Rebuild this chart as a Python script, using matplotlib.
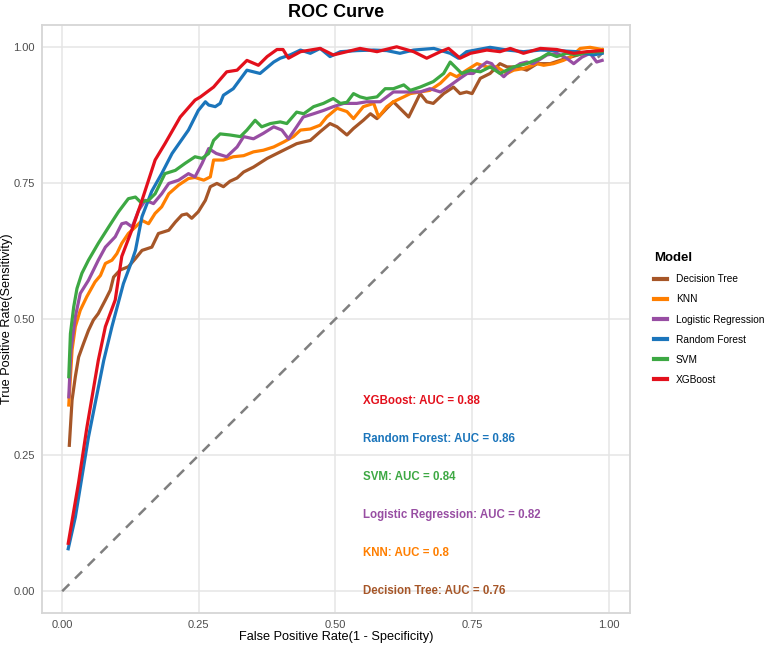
import matplotlib
matplotlib.use("Agg")
import matplotlib.pyplot as plt
from matplotlib.lines import Line2D

plt.rcParams['font.family'] = ['Liberation Sans', 'DejaVu Sans']

models = ["Decision Tree", "KNN", "Logistic Regression", "Random Forest", "SVM", "XGBoost"]
colors = ["#A65628", "#FF7F00", "#984EA3", "#1B75BB", "#3DA843", "#E3101C"]
auc_values = [0.76, 0.8, 0.82, 0.86, 0.84, 0.88]

dt_fpr = [0.013, 0.018, 0.024, 0.030, 0.039, 0.048, 0.057, 0.066, 0.079, 0.088, 0.094, 0.106, 0.121, 0.134, 0.146,
          0.164, 0.176, 0.195, 0.207, 0.219, 0.228, 0.237, 0.249, 0.262, 0.271, 0.283, 0.295, 0.307, 0.320, 0.332,
          0.350, 0.375, 0.393, 0.411, 0.429, 0.441, 0.454, 0.472, 0.490, 0.503, 0.521, 0.533, 0.551, 0.564, 0.576,
          0.594, 0.606, 0.618, 0.634, 0.655, 0.667, 0.679, 0.698, 0.716, 0.728, 0.740, 0.750, 0.765, 0.783, 0.801,
          0.814, 0.832, 0.850, 0.869, 0.893, 0.911, 0.930, 0.954, 0.970, 0.988]
dt_tpr = [0.268, 0.351, 0.394, 0.430, 0.455, 0.479, 0.498, 0.510, 0.535, 0.553, 0.577, 0.590, 0.596, 0.611, 0.626,
          0.632, 0.657, 0.663, 0.678, 0.691, 0.693, 0.685, 0.697, 0.718, 0.743, 0.749, 0.743, 0.753, 0.759, 0.770,
          0.779, 0.795, 0.804, 0.813, 0.822, 0.825, 0.828, 0.844, 0.859, 0.853, 0.838, 0.850, 0.865, 0.877, 0.868,
          0.887, 0.899, 0.887, 0.871, 0.914, 0.899, 0.896, 0.914, 0.926, 0.914, 0.917, 0.914, 0.942, 0.951, 0.969,
          0.963, 0.963, 0.957, 0.969, 0.969, 0.975, 0.981, 0.988, 0.990, 0.995]

knn_fpr = [0.012, 0.018, 0.024, 0.033, 0.045, 0.060, 0.070, 0.079, 0.091, 0.100, 0.109, 0.121, 0.134, 0.146, 0.158,
           0.170, 0.182, 0.195, 0.213, 0.231, 0.243, 0.259, 0.271, 0.277, 0.295, 0.313, 0.332, 0.350, 0.368, 0.387,
           0.405, 0.423, 0.436, 0.454, 0.472, 0.484, 0.503, 0.521, 0.533, 0.551, 0.570, 0.579, 0.594, 0.606, 0.625,
           0.637, 0.655, 0.673, 0.692, 0.710, 0.722, 0.740, 0.759, 0.777, 0.795, 0.814, 0.826, 0.844, 0.869, 0.881,
           0.899, 0.917, 0.930, 0.948, 0.966, 0.988]
knn_tpr = [0.342, 0.443, 0.486, 0.516, 0.541, 0.568, 0.580, 0.602, 0.608, 0.620, 0.639, 0.657, 0.669, 0.681, 0.675,
           0.694, 0.706, 0.730, 0.746, 0.758, 0.760, 0.755, 0.761, 0.792, 0.792, 0.798, 0.800, 0.807, 0.810, 0.816,
           0.825, 0.835, 0.847, 0.849, 0.856, 0.871, 0.887, 0.881, 0.868, 0.890, 0.896, 0.871, 0.890, 0.899, 0.908,
           0.914, 0.917, 0.920, 0.933, 0.951, 0.945, 0.957, 0.969, 0.963, 0.963, 0.951, 0.957, 0.960, 0.969, 0.966,
           0.969, 0.975, 0.981, 0.997, 0.999, 0.995]

lr_fpr = [0.012, 0.016, 0.024, 0.033, 0.048, 0.066, 0.079, 0.097, 0.109, 0.117, 0.128, 0.140, 0.152, 0.167, 0.182,
          0.195, 0.213, 0.231, 0.243, 0.256, 0.268, 0.282, 0.301, 0.320, 0.332, 0.350, 0.368, 0.387, 0.402, 0.414,
          0.429, 0.441, 0.460, 0.478, 0.496, 0.515, 0.539, 0.557, 0.582, 0.606, 0.631, 0.655, 0.673, 0.692, 0.710,
          0.728, 0.741, 0.752, 0.765, 0.777, 0.786, 0.795, 0.808, 0.820, 0.838, 0.850, 0.862, 0.887, 0.905, 0.923,
          0.936, 0.951, 0.966, 0.978, 0.988]
lr_tpr = [0.357, 0.443, 0.504, 0.547, 0.571, 0.608, 0.632, 0.651, 0.675, 0.677, 0.669, 0.700, 0.718, 0.712, 0.730,
          0.749, 0.755, 0.767, 0.761, 0.786, 0.813, 0.804, 0.798, 0.816, 0.835, 0.831, 0.841, 0.853, 0.847, 0.831,
          0.853, 0.871, 0.877, 0.883, 0.890, 0.896, 0.896, 0.899, 0.899, 0.917, 0.917, 0.917, 0.923, 0.917, 0.929,
          0.942, 0.951, 0.951, 0.963, 0.972, 0.969, 0.957, 0.945, 0.957, 0.969, 0.972, 0.969, 0.985, 0.988, 0.979,
          0.969, 0.981, 0.988, 0.972, 0.975]

rf_fpr = [0.011, 0.024, 0.048, 0.076, 0.091, 0.112, 0.128, 0.134, 0.146, 0.164, 0.182, 0.201, 0.231, 0.249, 0.262,
          0.268, 0.280, 0.289, 0.295, 0.313, 0.338, 0.362, 0.387, 0.399, 0.417, 0.436, 0.454, 0.472, 0.490, 0.509,
          0.540, 0.570, 0.594, 0.618, 0.643, 0.680, 0.710, 0.725, 0.740, 0.783, 0.814, 0.844, 0.875, 0.905, 0.942,
          0.972, 0.988]
rf_tpr = [0.078, 0.136, 0.283, 0.424, 0.486, 0.565, 0.608, 0.626, 0.688, 0.735, 0.767, 0.804, 0.847, 0.883, 0.899,
          0.893, 0.890, 0.896, 0.911, 0.923, 0.957, 0.951, 0.972, 0.979, 0.985, 0.994, 0.988, 0.997, 0.982, 0.991,
          0.993, 0.994, 0.993, 0.988, 0.994, 0.997, 0.988, 0.979, 0.991, 0.999, 0.994, 0.991, 0.994, 0.993, 0.991,
          0.985, 0.988]

svm_fpr = [0.012, 0.015, 0.021, 0.027, 0.036, 0.048, 0.066, 0.085, 0.103, 0.121, 0.134, 0.143, 0.158, 0.170, 0.188,
           0.207, 0.225, 0.243, 0.256, 0.268, 0.277, 0.289, 0.307, 0.326, 0.338, 0.353, 0.365, 0.381, 0.399, 0.411,
           0.429, 0.442, 0.460, 0.478, 0.496, 0.509, 0.521, 0.533, 0.545, 0.557, 0.576, 0.591, 0.606, 0.625, 0.637,
           0.655, 0.679, 0.698, 0.710, 0.719, 0.731, 0.747, 0.765, 0.783, 0.801, 0.826, 0.850, 0.875, 0.890, 0.905,
           0.923, 0.942, 0.960, 0.988]
svm_tpr = [0.394, 0.473, 0.522, 0.556, 0.584, 0.608, 0.639, 0.669, 0.697, 0.721, 0.724, 0.715, 0.718, 0.730, 0.767,
           0.773, 0.786, 0.798, 0.795, 0.804, 0.828, 0.840, 0.838, 0.835, 0.847, 0.865, 0.853, 0.859, 0.862, 0.859,
           0.880, 0.877, 0.890, 0.896, 0.905, 0.896, 0.898, 0.914, 0.908, 0.905, 0.908, 0.923, 0.923, 0.930, 0.920,
           0.926, 0.936, 0.951, 0.972, 0.963, 0.951, 0.957, 0.954, 0.963, 0.951, 0.963, 0.969, 0.979, 0.988, 0.982,
           0.988, 0.985, 0.990, 0.991]

xgb_fpr = [0.011, 0.030, 0.045, 0.066, 0.079, 0.097, 0.109, 0.128, 0.146, 0.170, 0.188, 0.216, 0.243, 0.253, 0.277,
           0.301, 0.320, 0.338, 0.359, 0.375, 0.393, 0.404, 0.414, 0.436, 0.472, 0.496, 0.521, 0.545, 0.576, 0.612,
           0.643, 0.667, 0.692, 0.707, 0.728, 0.747, 0.777, 0.801, 0.820, 0.844, 0.875, 0.905, 0.936, 0.960, 0.988]
xgb_tpr = [0.088, 0.200, 0.300, 0.424, 0.486, 0.535, 0.615, 0.665, 0.718, 0.792, 0.822, 0.871, 0.902, 0.908, 0.926,
           0.954, 0.957, 0.975, 0.966, 0.982, 0.995, 0.995, 0.979, 0.991, 0.997, 0.985, 0.991, 0.997, 0.991, 1.000,
           0.991, 0.979, 0.991, 0.997, 0.979, 0.988, 0.994, 0.991, 0.997, 0.988, 0.997, 0.995, 0.988, 0.991, 0.993]

fprs = [dt_fpr, knn_fpr, lr_fpr, rf_fpr, svm_fpr, xgb_fpr]
tprs = [dt_tpr, knn_tpr, lr_tpr, rf_tpr, svm_tpr, xgb_tpr]

diag = [0.0, 0.99]
x_ticks = [0.0, 0.25, 0.5, 0.75, 1.0]
y_ticks = [0.0, 0.25, 0.5, 0.75, 1.0]
label_y = [0.0, 0.07, 0.14, 0.28, 0.21, 0.35]  # per model order above
label_x = 0.55

fig = plt.figure(figsize=(7.67, 6.45), dpi=100)
ax = fig.add_axes([42/767, 1-613/645, (630-42)/767, (613-25)/645])

for f, t, c, m in zip(fprs, tprs, colors, models):
    ax.plot(f, t, color=c, lw=2.3, label=m, solid_joinstyle='round', zorder=3)

ax.plot(diag, diag, color='#7F7F7F', lw=1.8, ls=(0, (4, 3.2)), zorder=2)

for m, c, a, ly in zip(models, colors, auc_values, label_y):
    ax.text(label_x, ly, f"{m}: AUC = {a}", color=c, fontsize=8.3, fontweight='bold',
            ha='left', va='center', zorder=4)

ax.set_xlim(-0.037, 1.039)
ax.set_ylim(-0.04, 1.04)
ax.set_xticks(x_ticks)
ax.set_yticks(y_ticks)
ax.set_xticklabels([f"{v:.2f}" for v in x_ticks])
ax.set_yticklabels([f"{v:.2f}" for v in y_ticks])
ax.tick_params(length=0, labelsize=8, labelcolor='#4D4D4D', pad=5)
ax.grid(True, color='#E5E5E5', lw=1.1)
ax.set_axisbelow(True)
for s in ax.spines.values():
    s.set_color('#D6D6D6')
    s.set_linewidth(1.3)

ax.set_xlabel("False Positive Rate(1 - Specificity)", fontsize=9.2, va='center')
ax.xaxis.set_label_coords(0.5, (613 - 637) / 588)
ax.set_ylabel("True Positive Rate(Sensitivity)", fontsize=9.2, va='center')
ax.yaxis.set_label_coords((7 - 42) / 588, 0.5)
ax.set_title("ROC Curve", fontsize=13, fontweight='bold', pad=6)

handles = [Line2D([0], [0], color=c, lw=3) for c in colors]
leg = fig.legend(handles, models, loc='upper left', bbox_to_anchor=(645/767, 1-243/645),
                 frameon=False, title="Model", fontsize=7.3, handlelength=1.3,
                 handletextpad=0.85, labelspacing=1.0, alignment='left')
leg.get_title().set_fontweight('bold')
leg.get_title().set_fontsize(9.5)

fig.savefig("out.png", dpi=100)
